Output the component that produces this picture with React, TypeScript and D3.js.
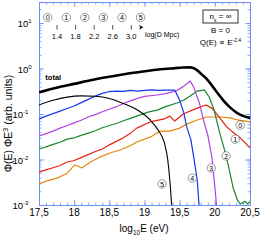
import React, { useEffect, useRef } from 'react';
import * as d3 from 'd3';

// log10 E (eV) -> Phi(E) E^3 (arb. units)
const totalCurve = [
  [17.5, 0.3], [17.75, 0.38], [18.0, 0.46], [18.25, 0.56], [18.5, 0.66], [18.75, 0.77],
  [19.0, 0.87], [19.2, 0.95], [19.4, 1.01], [19.55, 1.05], [19.65, 1.06], [19.72, 0.98],
  [19.8, 0.78], [19.88, 0.6], [19.96, 0.42], [20.03, 0.3], [20.12, 0.2], [20.22, 0.138],
  [20.32, 0.105], [20.4, 0.091], [20.5, 0.082],
];
const curve5 = [
  [17.5, 0.158], [17.7, 0.2], [17.9, 0.235], [18.1, 0.25], [18.3, 0.245], [18.5, 0.22],
  [18.7, 0.17], [18.9, 0.122], [19.08, 0.074], [19.2, 0.043], [19.28, 0.024], [19.33, 0.01],
  [19.36, 0.0035], [19.39, 0.0008],
];
const curve4 = [
  [17.5, 0.078], [17.6, 0.09], [17.7, 0.102], [17.8, 0.116], [17.9, 0.132], [18.0, 0.15],
  [18.1, 0.178], [18.2, 0.21], [18.3, 0.248], [18.4, 0.285], [18.5, 0.312], [18.6, 0.32],
  [18.7, 0.315], [18.8, 0.33], [18.9, 0.32], [19.0, 0.33], [19.1, 0.34], [19.2, 0.33],
  [19.3, 0.335], [19.43, 0.336], [19.5, 0.2], [19.56, 0.105], [19.6, 0.052], [19.66, 0.027],
  [19.7, 0.0113], [19.75, 0.0035], [19.78, 0.0008],
];
const curve3 = [
  [17.5, 0.033], [17.6, 0.037], [17.7, 0.042], [17.8, 0.049], [17.9, 0.056], [18.0, 0.064],
  [18.1, 0.073], [18.2, 0.086], [18.3, 0.097], [18.4, 0.112], [18.5, 0.127], [18.6, 0.145],
  [18.7, 0.17], [18.8, 0.195], [18.9, 0.22], [19.0, 0.245], [19.18, 0.262], [19.3, 0.28],
  [19.45, 0.32], [19.55, 0.4], [19.65, 0.53], [19.7, 0.39], [19.78, 0.175], [19.85, 0.063],
  [19.9, 0.0345], [19.96, 0.0108], [20.0, 0.0025], [20.03, 0.0008],
];
const curve2 = [
  [17.5, 0.017], [17.6, 0.019], [17.7, 0.0215], [17.8, 0.024], [17.9, 0.028], [18.0, 0.03],
  [18.1, 0.034], [18.2, 0.038], [18.3, 0.043], [18.4, 0.05], [18.5, 0.056], [18.6, 0.062],
  [18.7, 0.071], [18.8, 0.08], [18.9, 0.091], [19.05, 0.11], [19.18, 0.122], [19.3, 0.145],
  [19.46, 0.175], [19.56, 0.203], [19.65, 0.25], [19.75, 0.32], [19.85, 0.34], [19.92, 0.237],
  [19.99, 0.122], [20.07, 0.038], [20.13, 0.018], [20.19, 0.0076], [20.26, 0.0024],
  [20.32, 0.0013], [20.36, 0.00105], [20.43, 0.0012], [20.47, 0.00105], [20.5, 0.0012],
];
const curve1 = [
  [17.5, 0.0053], [17.6, 0.0059], [17.7, 0.0066], [17.8, 0.0074], [17.9, 0.0088], [18.0, 0.0095],
  [18.1, 0.011], [18.2, 0.0128], [18.3, 0.015], [18.4, 0.017], [18.5, 0.021], [18.6, 0.025],
  [18.7, 0.03], [18.8, 0.038], [18.89, 0.049], [19.08, 0.067], [19.28, 0.078], [19.36, 0.09],
  [19.43, 0.07], [19.55, 0.1], [19.75, 0.135], [19.87, 0.158], [19.96, 0.135], [20.05, 0.09],
  [20.16, 0.054], [20.24, 0.042], [20.36, 0.03], [20.5, 0.018],
];
const curve0 = [
  [17.5, 0.0029], [17.61, 0.0034], [17.76, 0.0039], [17.9, 0.005], [18.01, 0.0076], [18.11, 0.0065],
  [18.23, 0.0088], [18.37, 0.0114], [18.51, 0.0139], [18.65, 0.0162], [18.79, 0.0198],
  [18.89, 0.0243], [19.08, 0.031], [19.22, 0.042], [19.36, 0.042], [19.5, 0.049], [19.6, 0.06],
  [19.75, 0.074], [19.89, 0.086], [20.07, 0.086], [20.22, 0.082], [20.32, 0.074], [20.5, 0.067],
];

// where the circled curve numbers sit (log10 E, value)
const curveLabels = [
  ['0', 20.36, 0.057], ['1', 20.29, 0.028], ['2', 20.16, 0.012],
  ['3', 19.95, 0.0065], ['4', 19.68, 0.0039], ['5', 19.25, 0.0029],
];

const xTicks = [17.5, 18, 18.5, 19, 19.5, 20, 20.5];
const xTickLabels = ['17,5', '18', '18,5', '19', '19,5', '20', '20,5'];
const yTicks = [10, 1, 0.1, 0.01, 0.001];
const yTickExp = ['1', '0', '-1', '-2', '-3'];

// distance legend: log(D / Mpc)
const distTicks = [1.4, 1.8, 2.2, 2.6, 3.0];
const distCircles = [1.2, 1.6, 2.0, 2.4, 2.8, 3.2];

export default function App() {
  const ref = useRef<SVGSVGElement>(null);

  useEffect(() => {
    const svg = d3.select(ref.current);
    svg.selectAll('*').remove();

    const width = 274;
    const height = 241;
    const left = 39, right = 250, top = 2, bottom = 205;
    const font = "'Liberation Sans', Arial, Helvetica, sans-serif";
    const axisColor = '#6f8ef2';

    svg.attr('width', width).attr('height', height).style('font-family', font);

    const x = d3.scaleLinear().domain([17.5, 20.5]).range([left, right]);
    const y = d3.scaleLog().domain([1e-3, 29]).range([bottom, top]);

    const minorX = d3.range(175, 206).map((d) => d / 10);
    const minorY: number[] = [];
    for (let e = -3; e <= 1; e++) {
      for (let k = 1; k <= 9; k++) {
        const v = k * Math.pow(10, e);
        if (v <= 29) minorY.push(v);
      }
    }

    const styleAxis = (g: any) => {
      g.select('.domain').attr('stroke', axisColor).attr('stroke-width', 1);
      g.selectAll('.tick line').attr('stroke', axisColor).attr('stroke-width', 0.8);
      g.selectAll('text').remove();
    };
    const addAxis = (axis: any, tx: number, ty: number) =>
      svg.append('g').attr('transform', `translate(${tx},${ty})`).call(axis.tickSizeOuter(0).tickFormat(() => '')).call(styleAxis);

    // ticks point inward on all four sides
    addAxis(d3.axisBottom(x).tickValues(minorX).tickSize(-2.5), 0, bottom);
    addAxis(d3.axisBottom(x).tickValues(xTicks).tickSize(-5), 0, bottom);
    addAxis(d3.axisTop(x).tickValues(minorX).tickSize(-2.5), 0, top);
    addAxis(d3.axisTop(x).tickValues(xTicks).tickSize(-5), 0, top);
    addAxis(d3.axisLeft(y).tickValues(minorY).tickSize(-2.5), left, 0);
    addAxis(d3.axisLeft(y).tickValues(yTicks).tickSize(-5), left, 0);
    addAxis(d3.axisRight(y).tickValues(minorY).tickSize(-2.5), right, 0);
    addAxis(d3.axisRight(y).tickValues(yTicks).tickSize(-5), right, 0);

    // tick labels
    svg.append('g')
      .selectAll('text')
      .data(xTicks)
      .join('text')
      .attr('x', (d) => x(d))
      .attr('y', bottom + 11)
      .attr('text-anchor', 'middle')
      .style('font-size', '10px')
      .text((d, i) => xTickLabels[i]);

    const yl = svg.append('g')
      .selectAll('text')
      .data(yTicks)
      .join('text')
      .attr('y', (d) => y(d) + 4)
      .attr('text-anchor', 'end')
      .style('font-size', '9.5px')
      .attr('transform', (d, i) => `translate(${left - 4 - yTickExp[i].length * 3.3},0)`);
    yl.append('tspan').text('10');
    yl.append('tspan')
      .attr('dy', -4)
      .style('font-size', '6px')
      .text((d, i) => yTickExp[i]);

    // axis titles
    const xt = svg.append('text')
      .attr('x', 144)
      .attr('y', bottom + 27)
      .attr('text-anchor', 'middle')
      .style('font-size', '10px');
    xt.append('tspan').text('log');
    xt.append('tspan').attr('dy', 3).style('font-size', '6.5px').text('10');
    xt.append('tspan').attr('dy', -3).text('E (eV)');

    const yt = svg.append('text')
      .attr('transform', `translate(12,${(top + bottom) / 2 + 20}) rotate(-90)`)
      .attr('text-anchor', 'middle')
      .style('font-size', '10.5px');
    yt.append('tspan').text('Φ(E) ΦE');
    yt.append('tspan').attr('dy', -4).style('font-size', '7px').text('3');
    yt.append('tspan').attr('dy', 4).text(' (arb. units)');

    // curves
    svg.append('clipPath').attr('id', 'plot-clip')
      .append('rect').attr('x', left).attr('y', top).attr('width', right - left).attr('height', bottom - top);
    const plot = svg.append('g').attr('clip-path', 'url(#plot-clip)');

    const jagged = d3.line<number[]>().x((d) => x(d[0])).y((d) => y(d[1]));
    const smooth = d3.line<number[]>().x((d) => x(d[0])).y((d) => y(d[1])).curve(d3.curveMonotoneX);

    const series = [
      { data: curve0, color: '#e8860c', w: 1.2, line: jagged },
      { data: curve1, color: '#e8200e', w: 1.2, line: jagged },
      { data: curve2, color: '#17872a', w: 1.2, line: jagged },
      { data: curve3, color: '#b440e6', w: 1.2, line: jagged },
      { data: curve4, color: '#1538f0', w: 1.2, line: jagged },
      { data: curve5, color: '#000000', w: 1.1, line: smooth },
      { data: totalCurve, color: '#000000', w: 2.6, line: smooth },
    ];
    plot.selectAll('path.curve')
      .data(series)
      .join('path')
      .attr('class', 'curve')
      .attr('fill', 'none')
      .attr('stroke', (d) => d.color)
      .attr('stroke-width', (d) => d.w)
      .attr('stroke-linejoin', 'round')
      .attr('d', (d) => d.line(d.data));

    svg.append('text')
      .attr('x', x(17.59))
      .attr('y', y(0.56))
      .style('font-size', '7.5px')
      .style('font-weight', 'bold')
      .text('total');

    // circled curve numbers
    const cl = svg.append('g').selectAll('g').data(curveLabels).join('g')
      .attr('transform', (d) => `translate(${x(d[1] as number)},${y(d[2] as number)})`);
    cl.append('circle').attr('r', 4.2).attr('fill', '#fff').attr('stroke', '#555').attr('stroke-width', 0.6);
    cl.append('text').attr('y', 2.6).attr('text-anchor', 'middle').style('font-size', '7px').text((d) => d[0] as string);

    // distance legend at the top
    const dx = d3.scaleLinear().domain([1.4, 3.0]).range([57, 131.3]);
    const leg = svg.append('g');
    const lc = leg.selectAll('g').data(distCircles).join('g')
      .attr('transform', (d) => `translate(${dx(d)},17.5)`);
    lc.append('circle').attr('r', 4.2).attr('fill', '#fff').attr('stroke', '#555').attr('stroke-width', 0.6);
    lc.append('text').attr('y', 2.6).attr('text-anchor', 'middle').style('font-size', '7px').text((d, i) => String(i));
    leg.selectAll('line').data(distTicks).join('line')
      .attr('x1', (d) => dx(d)).attr('x2', (d) => dx(d))
      .attr('y1', 25).attr('y2', 29.5)
      .attr('stroke', '#000').attr('stroke-width', 0.7);
    leg.selectAll('text.dl').data(distTicks).join('text')
      .attr('class', 'dl')
      .attr('x', (d) => dx(d)).attr('y', 38.5)
      .attr('text-anchor', 'middle')
      .style('font-size', '7.5px')
      .text((d) => d.toFixed(1));
    leg.append('path').attr('d', 'M139,25 L143.5,27.3 L139,29.5 L140.2,27.3 Z').attr('fill', '#000');
    leg.append('text').attr('x', 145).attr('y', 36.5).style('font-size', '7px').text('log(D  Mpc)');

    // model box
    svg.append('rect').attr('x', 203).attr('y', 10).attr('width', 35).attr('height', 13)
      .attr('fill', '#fff').attr('stroke', '#000').attr('stroke-width', 0.8);
    const ns = svg.append('text').attr('x', 220.5).attr('y', 19).attr('text-anchor', 'middle').style('font-size', '8px');
    ns.append('tspan').text('n');
    ns.append('tspan').attr('dy', 2.5).style('font-size', '5px').text('s');
    ns.append('tspan').attr('dy', -2.5).text(' = ∞');
    svg.append('text').attr('x', 220.5).attr('y', 33).attr('text-anchor', 'middle').style('font-size', '8px').text('B = 0');
    const q = svg.append('text').attr('x', 220.5).attr('y', 45).attr('text-anchor', 'middle').style('font-size', '8px');
    q.append('tspan').text('Q(E) ∝ E');
    q.append('tspan').attr('dy', -3.5).style('font-size', '5px').text('-2.4');
  }, []);

  return (
    <>
      <style>{'body{margin:0}'}</style>
      <svg ref={ref} style={{ display: 'block', background: '#fff' }} />
    </>
  );
}
